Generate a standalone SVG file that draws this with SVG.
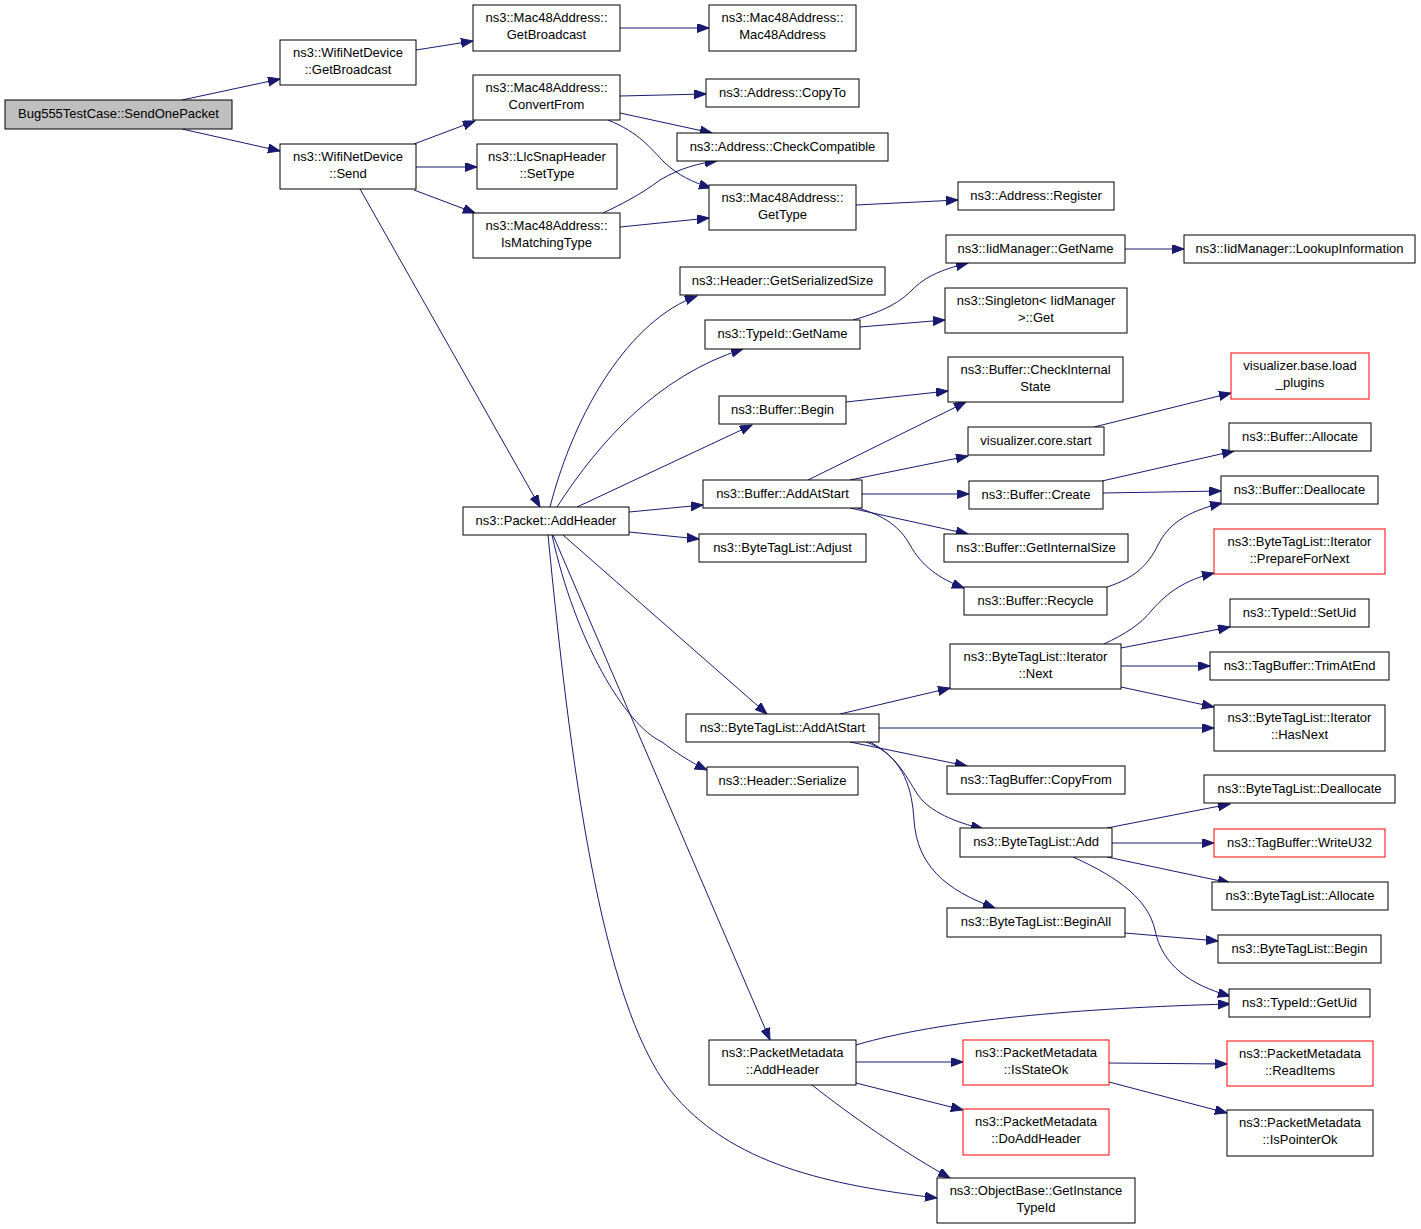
<svg xmlns="http://www.w3.org/2000/svg" width="1421" height="1229" viewBox="0 0 1421 1229">
<defs>
<marker id="a" markerWidth="13" markerHeight="10" refX="12" refY="4.5" orient="auto" markerUnits="userSpaceOnUse"><path d="M0,0 L12,4.5 L0,9 z" fill="#191970" stroke="#191970" stroke-width="1"/></marker>
<style>
rect{fill:#fff;stroke:#000;stroke-width:1}
.r rect{stroke:#ff0000}
.g rect{fill:#bfbfbf}
text{font-family:"Liberation Sans",Arial,Helvetica,sans-serif;font-size:13px;text-anchor:middle;fill:#000}
#edges path{fill:none;stroke:#191970;stroke-width:1;marker-end:url(#a)}
</style>
</defs>
<rect x="0" y="0" width="1421" height="1229" style="fill:#fff;stroke:none"/>
<g id="edges">
<path d="M182,100 L280,79"/>
<path d="M182,129 L280,151"/>
<path d="M416,50 L473,41"/>
<path d="M414,144 L475,121"/>
<path d="M416,167 L477,167"/>
<path d="M414,190 L475,213"/>
<path d="M360,189 L540,507"/>
<path d="M620,28 L709,28"/>
<path d="M620,96 L706,94"/>
<path d="M620,113 L712,133"/>
<path d="M608,120 C640,133 650,148 665,163 C678,175 692,182 711,188"/>
<path d="M603,213 C620,205 640,195 660,180 C680,168 700,163 717,161"/>
<path d="M620,227 L709,218"/>
<path d="M856,205 L958,200"/>
<path d="M1125,249 L1184,249"/>
<path d="M853,320 C885,311 900,302 912,290 C925,277 940,270 968,263"/>
<path d="M860,327 L945,320"/>
<path d="M846,402 L948,391"/>
<path d="M808,480 L966,402"/>
<path d="M850,480 L968,456"/>
<path d="M862,494 L969,494"/>
<path d="M850,508 L968,534"/>
<path d="M858,508 C885,516 900,527 910,545 C922,566 938,578 964,588"/>
<path d="M1094,427 L1231,393"/>
<path d="M1102,481 L1234,451"/>
<path d="M1103,493 L1221,491"/>
<path d="M1107,587 C1135,578 1148,565 1158,545 C1168,525 1185,512 1222,503"/>
<path d="M1104,644 C1125,634 1140,625 1152,610 C1168,592 1185,580 1214,573"/>
<path d="M1121,648 L1230,627"/>
<path d="M1121,666 L1210,666"/>
<path d="M1121,687 L1214,707"/>
<path d="M840,714 L950,688"/>
<path d="M879,728 L1214,728"/>
<path d="M850,742 L967,766"/>
<path d="M866,742 C895,752 905,775 918,795 C930,812 955,822 983,829"/>
<path d="M870,742 C905,760 912,790 914,820 C917,865 945,890 995,908"/>
<path d="M1107,828 L1230,804"/>
<path d="M1112,843 L1214,843"/>
<path d="M1107,857 L1230,883"/>
<path d="M1073,857 C1120,878 1148,900 1155,930 C1162,965 1190,985 1230,996"/>
<path d="M1125,933 L1218,941"/>
<path d="M856,1045 C940,1020 1080,1008 1230,1004"/>
<path d="M856,1062 L963,1062"/>
<path d="M856,1083 L963,1110"/>
<path d="M812,1085 C850,1115 900,1150 950,1178"/>
<path d="M1109,1063 L1227,1064"/>
<path d="M1109,1082 L1227,1113"/>
<path d="M548,535 C570,760 600,1000 670,1090 C730,1165 830,1185 937,1198"/>
<path d="M553,535 L770,1040"/>
<path d="M552,535 C575,640 625,725 662,742 C675,752 690,762 707,770"/>
<path d="M563,535 L767,714"/>
<path d="M629,532 L699,539"/>
<path d="M629,512 L703,505"/>
<path d="M577,507 L752,425"/>
<path d="M557,507 C600,440 660,375 743,349"/>
<path d="M550,507 C575,410 630,320 697,296"/>
</g>
<g id="root" class="g"><rect x="5" y="100" width="227" height="29"/><text x="118.5" y="118">Bug555TestCase::SendOnePacket</text></g>
<g id="wnd_gb"><rect x="280" y="40" width="136" height="45"/><text x="348" y="57">ns3::WifiNetDevice</text><text x="348" y="74">::GetBroadcast</text></g>
<g id="wnd_send"><rect x="280" y="144" width="136" height="45"/><text x="348" y="161">ns3::WifiNetDevice</text><text x="348" y="178">::Send</text></g>
<g id="m_gb"><rect x="473" y="5" width="147" height="46"/><text x="546.5" y="22">ns3::Mac48Address::</text><text x="546.5" y="39">GetBroadcast</text></g>
<g id="m_m48"><rect x="709" y="5" width="147" height="46"/><text x="782.5" y="22">ns3::Mac48Address::</text><text x="782.5" y="39">Mac48Address</text></g>
<g id="m_cf"><rect x="473" y="75" width="147" height="45"/><text x="546.5" y="92">ns3::Mac48Address::</text><text x="546.5" y="109">ConvertFrom</text></g>
<g id="a_copy"><rect x="706" y="79" width="153" height="28"/><text x="782.5" y="97">ns3::Address::CopyTo</text></g>
<g id="a_cc"><rect x="677" y="133" width="211" height="28"/><text x="782.5" y="151">ns3::Address::CheckCompatible</text></g>
<g id="llc"><rect x="477" y="144" width="140" height="45"/><text x="547" y="161">ns3::LlcSnapHeader</text><text x="547" y="178">::SetType</text></g>
<g id="m_imt"><rect x="473" y="213" width="147" height="45"/><text x="546.5" y="230">ns3::Mac48Address::</text><text x="546.5" y="247">IsMatchingType</text></g>
<g id="m_gt"><rect x="709" y="185" width="147" height="45"/><text x="782.5" y="202">ns3::Mac48Address::</text><text x="782.5" y="219">GetType</text></g>
<g id="a_reg"><rect x="958" y="182" width="156" height="28"/><text x="1036" y="200">ns3::Address::Register</text></g>
<g id="iid_gn"><rect x="946" y="235" width="179" height="28"/><text x="1035.5" y="253">ns3::IidManager::GetName</text></g>
<g id="iid_li"><rect x="1184" y="235" width="231" height="28"/><text x="1299.5" y="253">ns3::IidManager::LookupInformation</text></g>
<g id="sing"><rect x="945" y="288" width="182" height="45"/><text x="1036" y="305">ns3::Singleton&lt; IidManager</text><text x="1036" y="322">&gt;::Get</text></g>
<g id="b_cis"><rect x="948" y="357" width="175" height="45"/><text x="1035.5" y="374">ns3::Buffer::CheckInternal</text><text x="1035.5" y="391">State</text></g>
<g id="vis_lp" class="r"><rect x="1231" y="353" width="138" height="46"/><text x="1300" y="370">visualizer.base.load</text><text x="1300" y="387">_plugins</text></g>
<g id="vis_cs"><rect x="968" y="427" width="136" height="28"/><text x="1036" y="445">visualizer.core.start</text></g>
<g id="b_alloc"><rect x="1229" y="423" width="142" height="28"/><text x="1300" y="441">ns3::Buffer::Allocate</text></g>
<g id="b_create"><rect x="969" y="481" width="134" height="28"/><text x="1036" y="499">ns3::Buffer::Create</text></g>
<g id="b_dealloc"><rect x="1221" y="476" width="157" height="28"/><text x="1299.5" y="494">ns3::Buffer::Deallocate</text></g>
<g id="b_gis"><rect x="944" y="534" width="184" height="28"/><text x="1036" y="552">ns3::Buffer::GetInternalSize</text></g>
<g id="it_pfn" class="r"><rect x="1214" y="529" width="171" height="45"/><text x="1299.5" y="546">ns3::ByteTagList::Iterator</text><text x="1299.5" y="563">::PrepareForNext</text></g>
<g id="b_rec"><rect x="964" y="587" width="143" height="28"/><text x="1035.5" y="605">ns3::Buffer::Recycle</text></g>
<g id="t_setuid"><rect x="1230" y="599" width="139" height="28"/><text x="1299.5" y="617">ns3::TypeId::SetUid</text></g>
<g id="h_gss"><rect x="680" y="267" width="205" height="28"/><text x="782.5" y="285">ns3::Header::GetSerializedSize</text></g>
<g id="t_gn"><rect x="705" y="320" width="155" height="29"/><text x="782.5" y="338">ns3::TypeId::GetName</text></g>
<g id="b_begin"><rect x="719" y="396" width="127" height="28"/><text x="782.5" y="414">ns3::Buffer::Begin</text></g>
<g id="b_aas"><rect x="703" y="480" width="159" height="28"/><text x="782.5" y="498">ns3::Buffer::AddAtStart</text></g>
<g id="p_ah"><rect x="463" y="507" width="166" height="28"/><text x="546" y="525">ns3::Packet::AddHeader</text></g>
<g id="btl_adj"><rect x="699" y="534" width="167" height="28"/><text x="782.5" y="552">ns3::ByteTagList::Adjust</text></g>
<g id="it_next"><rect x="950" y="644" width="171" height="45"/><text x="1035.5" y="661">ns3::ByteTagList::Iterator</text><text x="1035.5" y="678">::Next</text></g>
<g id="btl_aas"><rect x="686" y="714" width="193" height="28"/><text x="782.5" y="732">ns3::ByteTagList::AddAtStart</text></g>
<g id="h_ser"><rect x="707" y="767" width="151" height="28"/><text x="782.5" y="785">ns3::Header::Serialize</text></g>
<g id="tb_cf"><rect x="947" y="766" width="178" height="28"/><text x="1036" y="784">ns3::TagBuffer::CopyFrom</text></g>
<g id="btl_add"><rect x="960" y="828" width="152" height="29"/><text x="1036" y="846">ns3::ByteTagList::Add</text></g>
<g id="btl_ba"><rect x="947" y="908" width="178" height="29"/><text x="1036" y="926">ns3::ByteTagList::BeginAll</text></g>
<g id="tb_trim"><rect x="1210" y="652" width="179" height="28"/><text x="1299.5" y="670">ns3::TagBuffer::TrimAtEnd</text></g>
<g id="it_hn"><rect x="1214" y="705" width="171" height="46"/><text x="1299.5" y="722">ns3::ByteTagList::Iterator</text><text x="1299.5" y="739">::HasNext</text></g>
<g id="btl_dealloc"><rect x="1204" y="775" width="191" height="28"/><text x="1299.5" y="793">ns3::ByteTagList::Deallocate</text></g>
<g id="tb_w32" class="r"><rect x="1214" y="829" width="171" height="28"/><text x="1299.5" y="847">ns3::TagBuffer::WriteU32</text></g>
<g id="btl_alloc"><rect x="1212" y="882" width="176" height="28"/><text x="1300" y="900">ns3::ByteTagList::Allocate</text></g>
<g id="btl_begin"><rect x="1218" y="935" width="163" height="28"/><text x="1299.5" y="953">ns3::ByteTagList::Begin</text></g>
<g id="t_guid"><rect x="1229" y="989" width="141" height="28"/><text x="1299.5" y="1007">ns3::TypeId::GetUid</text></g>
<g id="pm_ah"><rect x="709" y="1040" width="147" height="45"/><text x="782.5" y="1057">ns3::PacketMetadata</text><text x="782.5" y="1074">::AddHeader</text></g>
<g id="pm_iso" class="r"><rect x="963" y="1040" width="146" height="45"/><text x="1036" y="1057">ns3::PacketMetadata</text><text x="1036" y="1074">::IsStateOk</text></g>
<g id="pm_dah" class="r"><rect x="963" y="1109" width="146" height="46"/><text x="1036" y="1126">ns3::PacketMetadata</text><text x="1036" y="1143">::DoAddHeader</text></g>
<g id="ob"><rect x="937" y="1178" width="198" height="45"/><text x="1036" y="1195">ns3::ObjectBase::GetInstance</text><text x="1036" y="1212">TypeId</text></g>
<g id="pm_ri" class="r"><rect x="1227" y="1041" width="146" height="45"/><text x="1300" y="1058">ns3::PacketMetadata</text><text x="1300" y="1075">::ReadItems</text></g>
<g id="pm_ipo"><rect x="1227" y="1110" width="146" height="46"/><text x="1300" y="1127">ns3::PacketMetadata</text><text x="1300" y="1144">::IsPointerOk</text></g>
</svg>
